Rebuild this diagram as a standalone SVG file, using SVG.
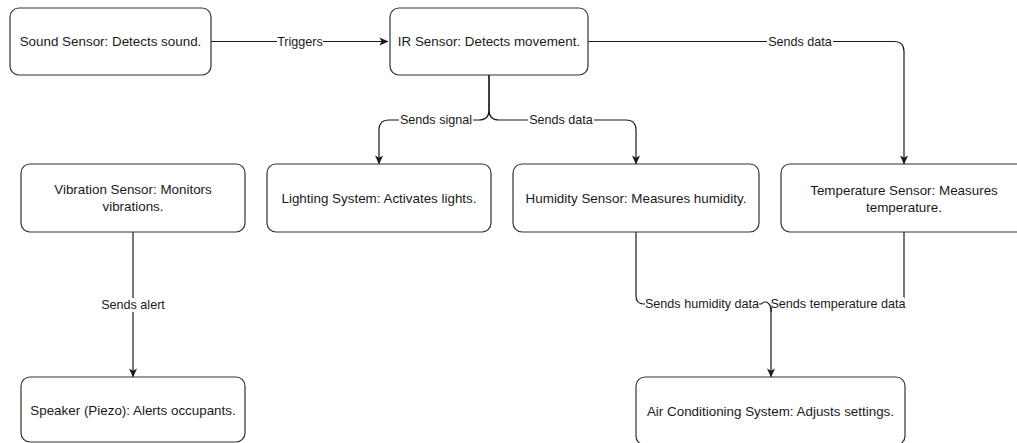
<svg xmlns="http://www.w3.org/2000/svg" width="1017" height="443" viewBox="0 0 1017 443">
<style>
.node rect{fill:#fff;stroke:#333;stroke-width:1.2}
.node text{font-family:"Liberation Sans",Arial,sans-serif;font-size:13.4px;fill:#1a1a1a;text-anchor:middle;dominant-baseline:central}
.edge{fill:none;stroke:#1a1a1a;stroke-width:1.2}
.bg{fill:#fff}
.lbl{font-family:"Liberation Sans",Arial,sans-serif;font-size:12.6px;fill:#1a1a1a;text-anchor:middle;dominant-baseline:central}
</style>
<defs>
<marker id="arr" viewBox="0 0 10 10" refX="9.5" refY="5" markerWidth="9" markerHeight="9" markerUnits="userSpaceOnUse" orient="auto">
<path d="M0,0.5 L10,5 L0,9.5 L2.5,5 Z" fill="#1a1a1a"/>
</marker>
</defs>
<rect width="1017" height="443" fill="#fff"/>
<g id="connectors">
<path class="edge" d="M211,41.5 H388" marker-end="url(#arr)"/>
<path class="edge" d="M489,75 V110 Q489,120 479,120 H389 Q379,120 379,130 V164" marker-end="url(#arr)"/>
<path class="edge" d="M489,75 V110 Q489,120 499,120 H626 Q636,120 636,130 V164" marker-end="url(#arr)"/>
<path class="edge" d="M588,41.5 H894 Q904,41.5 904,51.5 V164" marker-end="url(#arr)"/>
<path class="edge" d="M133,232 V377" marker-end="url(#arr)"/>
<path class="edge" d="M636,232 V296 Q636,304 644,304 H761 Q766,300 769,304 Q771,306 771,312 V377" marker-end="url(#arr)"/>
<path class="edge" d="M904,232 V296 Q904,304 896,304 H779 Q771,304 771,312"/>
<rect class="bg" x="277" y="34.5" width="46" height="14"/>
<text class="lbl" x="300" y="41.5">Triggers</text>
<rect class="bg" x="399" y="113" width="74" height="14"/>
<text class="lbl" x="436" y="120">Sends signal</text>
<rect class="bg" x="528" y="113" width="66" height="14"/>
<text class="lbl" x="561" y="120">Sends data</text>
<rect class="bg" x="767" y="34.5" width="66" height="14"/>
<text class="lbl" x="800" y="41.5">Sends data</text>
<rect class="bg" x="100" y="298" width="66" height="14"/>
<text class="lbl" x="133" y="305">Sends alert</text>
<rect class="bg" x="645" y="297" width="114" height="14"/>
<text class="lbl" x="702" y="304">Sends humidity data</text>
<rect class="bg" x="772" y="297" width="132" height="14"/>
<text class="lbl" x="838" y="304">Sends temperature data</text>
</g>
<g id="sound" class="node"><rect x="10" y="8" width="201" height="67" rx="9"/><text x="110.5" y="41.5">Sound Sensor: Detects sound.</text></g>
<g id="ir" class="node"><rect x="390" y="8" width="198" height="67" rx="9"/><text x="489" y="41.5">IR Sensor: Detects movement.</text></g>
<g id="vibration" class="node"><rect x="21" y="164" width="224" height="68" rx="9"/><text x="133" y="189">Vibration Sensor: Monitors</text><text x="133" y="206">vibrations.</text></g>
<g id="lighting" class="node"><rect x="267" y="164" width="224" height="68" rx="9"/><text x="379" y="198">Lighting System: Activates lights.</text></g>
<g id="humidity" class="node"><rect x="513" y="164" width="246" height="68" rx="9"/><text x="636" y="198">Humidity Sensor: Measures humidity.</text></g>
<g id="temperature" class="node"><rect x="781" y="164" width="246" height="68" rx="9"/><text x="904" y="190">Temperature Sensor: Measures</text><text x="904" y="207">temperature.</text></g>
<g id="speaker" class="node"><rect x="21" y="377" width="224" height="65" rx="9"/><text x="133" y="410">Speaker (Piezo): Alerts occupants.</text></g>
<g id="ac" class="node"><rect x="636" y="377" width="269" height="68" rx="9"/><text x="770.5" y="411">Air Conditioning System: Adjusts settings.</text></g>
</svg>
